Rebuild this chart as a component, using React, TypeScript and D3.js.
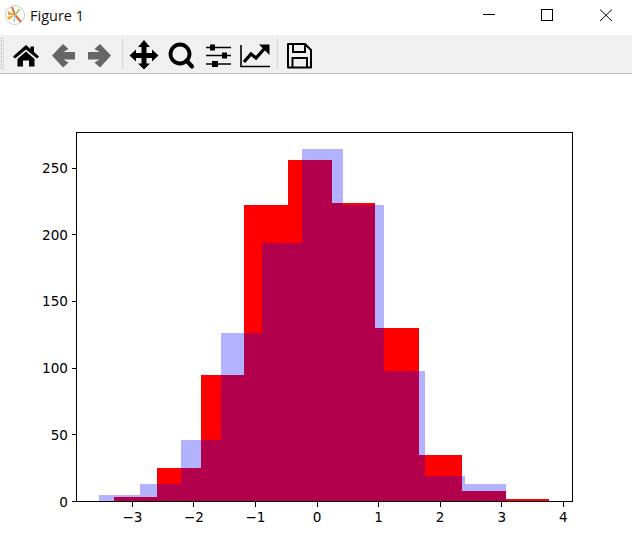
import React from "react";
import * as d3 from "d3";

const redEdges = [-3.3, -2.593, -1.886, -1.179, -0.472, 0.235, 0.942, 1.649, 2.356, 3.063, 3.77];
const redCounts = [3, 25, 95, 222, 256, 224, 130, 35, 8, 2];
const blueEdges = [-3.54, -2.879, -2.218, -1.557, -0.896, -0.245, 0.426, 1.087, 1.748, 2.409, 3.07];
const blueCounts = [5, 13, 46, 126, 194, 264, 222, 98, 19, 13];
const xTicks = [-3, -2, -1, 0, 1, 2, 3, 4];
const yTicks = [0, 50, 100, 150, 200, 250];
const title = "Figure 1";

const W = 632, H = 547;
const box = { l: 76.5, r: 572.5, t: 132.5, b: 501.5 };
const x = d3.scaleLinear().domain([-3, 4]).range([132.4, 563.3]);
const y = d3.scaleLinear().domain([0, 250]).range([501.5, 168]);

const Hist = ({ edges, counts, fill, opacity }: { edges: number[]; counts: number[]; fill: string; opacity: number }) => (
  <g fill={fill} fillOpacity={opacity} shapeRendering="crispEdges">
    {counts.map((c, i) => (
      <rect key={i} x={x(edges[i])} width={x(edges[i + 1]) - x(edges[i])} y={y(c)} height={y(0) - y(c)} />
    ))}
  </g>
);

const Chrome = () => (
  <g>
    <rect x={0} y={0} width={W} height={35} fill="#fff" />
    <rect x={0} y={35} width={W} height={38} fill="#f0f0f0" />
    <rect x={0} y={73} width={W} height={1} fill="#bdbdbd" />
    {/* app icon */}
    <circle cx={15} cy={15} r={9.5} fill="#fff" stroke="#cfcfcf" />
    <path d="M15 15 L8 11 L8 15 Z" fill="#f5a623" />
    <path d="M15 15 L7 17 L9 20 Z" fill="#f5a623" />
    <path d="M15 15 L21 22" stroke="#e8622a" strokeWidth={2} />
    <path d="M15 15 L12 7" stroke="#e8622a" strokeWidth={2} />
    <path d="M15 15 L20 9" stroke="#8fce5a" strokeWidth={1.5} />
    <path d="M15 15 L14 22" stroke="#8fd0e0" strokeWidth={1.5} />
    <text x={30} y={21} fontFamily="'Open Sans', sans-serif" fontSize={14.5} fill="#111">{title}</text>
    {/* window buttons */}
    <path d="M483 14.5H495" stroke="#000" />
    <rect x={541.5} y={9.5} width={11} height={11} fill="none" stroke="#000" />
    <path d="M600 9.5L612 21M612 9.5L600 21" stroke="#000" />
    {/* grip */}
    <path d="M1.5 38V70" stroke="#aaa" strokeDasharray="1 1" />
    <path d="M3.5 38V70" stroke="#ccc" strokeDasharray="1 1" />
    {/* home */}
    <path d="M13 56.500L26 45L30.500 49V46.500H34V52L39 56.500L37 58.500L26 49.500L15 58.500Z" fill="#000" />
    <path d="M17.500 59L26 51.500L34.500 59V66.500H29V60.500H23V66.500H17.500Z" fill="#000" />
    {/* back / forward */}
    <path d="M52 55.500L63 44L68.500 49L63.500 52H75V59.500H63.500L68.500 62.500L63 67.500Z" fill="#666" />
    <path d="M111 55.500L100 44L94.500 49L99.500 52H88V59.500H99.500L94.500 62.500L100 67.500Z" fill="#666" />
    <path d="M122.500 39V69M277.500 39V69" stroke="#d4d4d4" />
    {/* move */}
    <path d="M144 40L150 47H146.500V53H152V49.500L158.500 55.500L152 61.500V58H146.500V63.500H150L144 69.500L138 63.500H141.500V58H136V61.500L129.500 55.500L136 49.500V53H141.500V47H138Z" fill="#000" />
    {/* zoom */}
    <circle cx={180} cy={54} r={9.500} fill="none" stroke="#000" strokeWidth={3.800} />
    <path d="M186.500 60.500L192 66.500" stroke="#000" strokeWidth={4.200} strokeLinecap="round" />
    {/* sliders */}
    <g stroke="#000" strokeWidth={1.600}>
      <path d="M206 47.500H231M206 55.500H231M206 64H231" />
    </g>
    <rect x={210} y={44.500} width={5} height={6} fill="#000" />
    <rect x={222} y={52.500} width={5} height={6} fill="#000" />
    <rect x={212} y={61} width={6} height={6} fill="#000" />
    {/* chart */}
    <path d="M241 45V66.500H270" fill="none" stroke="#000" strokeWidth={1.600} />
    <path d="M244 62L251 54L256 58L265 48" fill="none" stroke="#000" strokeWidth={3.200} />
    <path d="M259 44.500H269.500V55Z" fill="#000" />
    {/* save */}
    <path d="M288 44H305L311 50V67.500H288Z" fill="none" stroke="#000" strokeWidth={2} strokeLinejoin="round" />
    <path d="M293 44.500V52H305V44.500" fill="none" stroke="#000" strokeWidth={2} />
    <path d="M292.500 67V58H307V67" fill="none" stroke="#000" strokeWidth={2} />
  </g>
);

export default function App() {
  const fmt = (t: number) => (t < 0 ? "\u2212" + Math.abs(t) : String(t));
  return (
    <svg width={W} height={H} style={{ position: "absolute", left: 0, top: 0, background: "#fff" }}>
      <Chrome />
      <Hist edges={redEdges} counts={redCounts} fill="#ff0000" opacity={1} />
      <Hist edges={blueEdges} counts={blueCounts} fill="#0000ff" opacity={0.3} />
      <rect x={box.l} y={box.t} width={box.r - box.l} height={box.b - box.t} fill="none" stroke="#000" strokeWidth={1} shapeRendering="crispEdges" />
      <g fontFamily="'DejaVu Sans', sans-serif" fontSize={13.6} fill="#000">
        {xTicks.map((t) => (
          <g key={t}>
            <line x1={x(t)} x2={x(t)} y1={box.b} y2={box.b + 5} stroke="#000" shapeRendering="crispEdges" />
            <text x={x(t)} y={box.b + 20} textAnchor="middle">{fmt(t)}</text>
          </g>
        ))}
        {yTicks.map((t) => (
          <g key={t}>
            <line x1={box.l - 5} x2={box.l} y1={y(t)} y2={y(t)} stroke="#000" shapeRendering="crispEdges" />
            <text x={box.l - 8.500} y={y(t) + 5} textAnchor="end">{t}</text>
          </g>
        ))}
      </g>
    </svg>
  );
}
